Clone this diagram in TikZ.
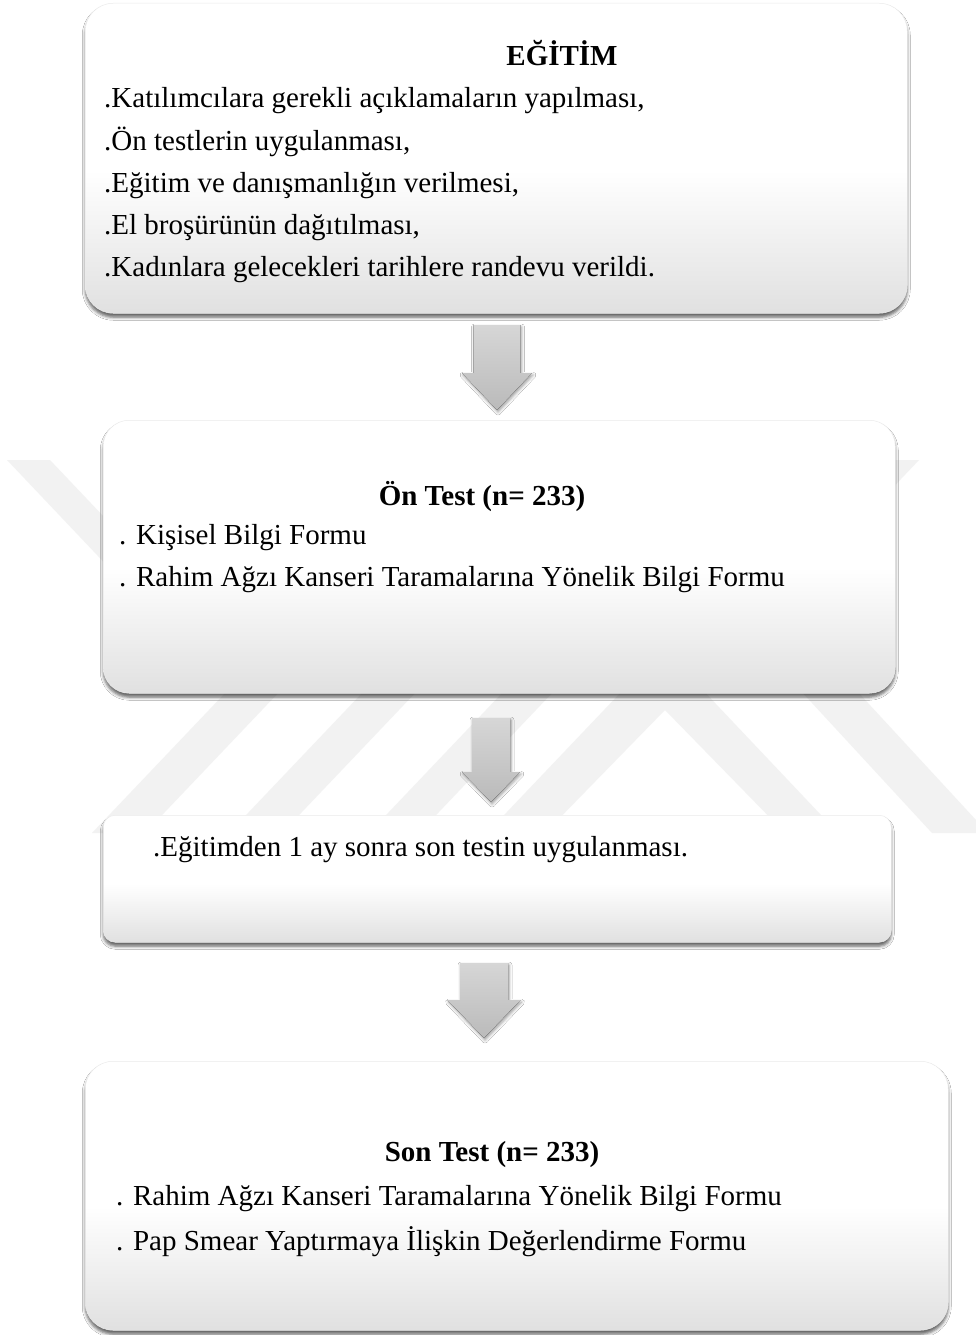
\documentclass[tikz,border=0pt]{standalone}
\usepackage{fontspec}
\setmainfont{Liberation Serif}
\usetikzlibrary{shadows.blur}
\pgfdeclareverticalshading{boxfade}{100bp}{color(0bp)=(black!12); color(25bp)=(black!12); color(48bp)=(white); color(100bp)=(white)}
\pgfdeclareverticalshading{arrowfade}{100bp}{color(0bp)=(black!27); color(25bp)=(black!27); color(75bp)=(black!16); color(100bp)=(black!16)}
\newcommand{\blockarrow}[6]{%
  \fill[blockarr] ({#1-#3},#2) -- ({#1+#3},#2) -- ({#1+#3},#5) -- ({#1+#4},#5) -- (#1,#6)
    -- ({#1-#4},#5) -- ({#1-#3},#5) -- cycle;}

\begin{document}
\begin{tikzpicture}[x=1pt,y=-1pt,
    every node/.style={font=\fontsize{29}{35}\selectfont, inner sep=0pt},
    flowbox/.style={draw=black!8, line width=0.5pt, shading=boxfade,
      blur shadow={shadow xshift=0pt, shadow yshift=-4pt, shadow blur radius=3pt, shadow opacity=60}},
    wmark/.style={fill=black!5},
    blockarr/.style={shading=arrowfade,
      blur shadow={shadow xshift=1pt, shadow yshift=-2pt, shadow blur radius=3pt, shadow opacity=40}},
    item/.style={anchor=base west},
    head/.style={anchor=base, font=\fontsize{29}{35}\selectfont\bfseries}]
        \useasboundingbox[fill=white] (0,0) rectangle (976,1335);
        % watermark
        \fill[wmark] (7,460) -- (50,460) -- (268,690) -- (225,690) -- cycle;
        \fill[wmark] (876,460) -- (919,460) -- (701,690) -- (658,690) -- cycle;
        \fill[wmark] (228,690) -- (281,690) -- (145,833) -- (92,833) -- cycle;
        \fill[wmark] (365,690) -- (418,690) -- (282,833) -- (229,833) -- cycle;
        \fill[wmark] (505,690) -- (555,690) -- (419,833) -- (369,833) -- cycle;
        \fill[wmark] (487,833) -- (663,648) -- (838,833) -- (785,833) -- (665,710) -- (545,833) -- cycle;
        \fill[wmark] (800,690) -- (856,690) -- (988,833) -- (932,833) -- cycle;
        % boxes
        \node[flowbox, rounded corners=28pt, anchor=north west, minimum width=822pt, minimum height=310pt] (egitim) at (85,3) {};
        \node[flowbox, rounded corners=26pt, anchor=north west, minimum width=792pt, minimum height=273pt] (ontest) at (103,420) {};
        \node[flowbox, rounded corners=12pt, anchor=north west, minimum width=788pt, minimum height=127pt] (sontesti) at (103,815) {};
        \node[flowbox, rounded corners=28pt, anchor=north west, minimum width=863pt, minimum height=269pt] (sontest) at (85,1061) {};
        % arrows
        \blockarrow{497}{325}{23.5}{35}{373}{410}
        \blockarrow{491}{718}{19}{29}{772}{802}
        \blockarrow{484}{963}{24}{36.5}{1000}{1038}
        % texts
        \node[head] (egTitle) at (562,66) {EĞİTİM};
        \node[item] (eg1) at (104,108) {.Katılımcılara gerekli açıklamaların yapılması,};
        \node[item] (eg2) at (104,150) {.Ön testlerin uygulanması,};
        \node[item] (eg3) at (104,192) {.Eğitim ve danışmanlığın verilmesi,};
        \node[item] (eg4) at (104,234) {.El broşürünün dağıtılması,};
        \node[item] (eg5) at (104,276) {.Kadınlara gelecekleri tarihlere randevu verildi.};
        \node[head] (onTitle) at (482,505) {Ön Test (n= 233)};
        \node[item] (on1) at (119,544) {. Kişisel Bilgi Formu};
        \node[item] (on2) at (119,586) {. Rahim Ağzı Kanseri Taramalarına Yönelik Bilgi Formu};
        \node[item] (ara1) at (153,856) {.Eğitimden 1 ay sonra son testin uygulanması.};
        \node[head] (sonTitle) at (492,1161) {Son Test (n= 233)};
        \node[item] (son1) at (116,1205) {. Rahim Ağzı Kanseri Taramalarına Yönelik Bilgi Formu};
        \node[item] (son2) at (116,1250) {. Pap Smear Yaptırmaya İlişkin Değerlendirme Formu};
    \end{tikzpicture}
\end{document}
